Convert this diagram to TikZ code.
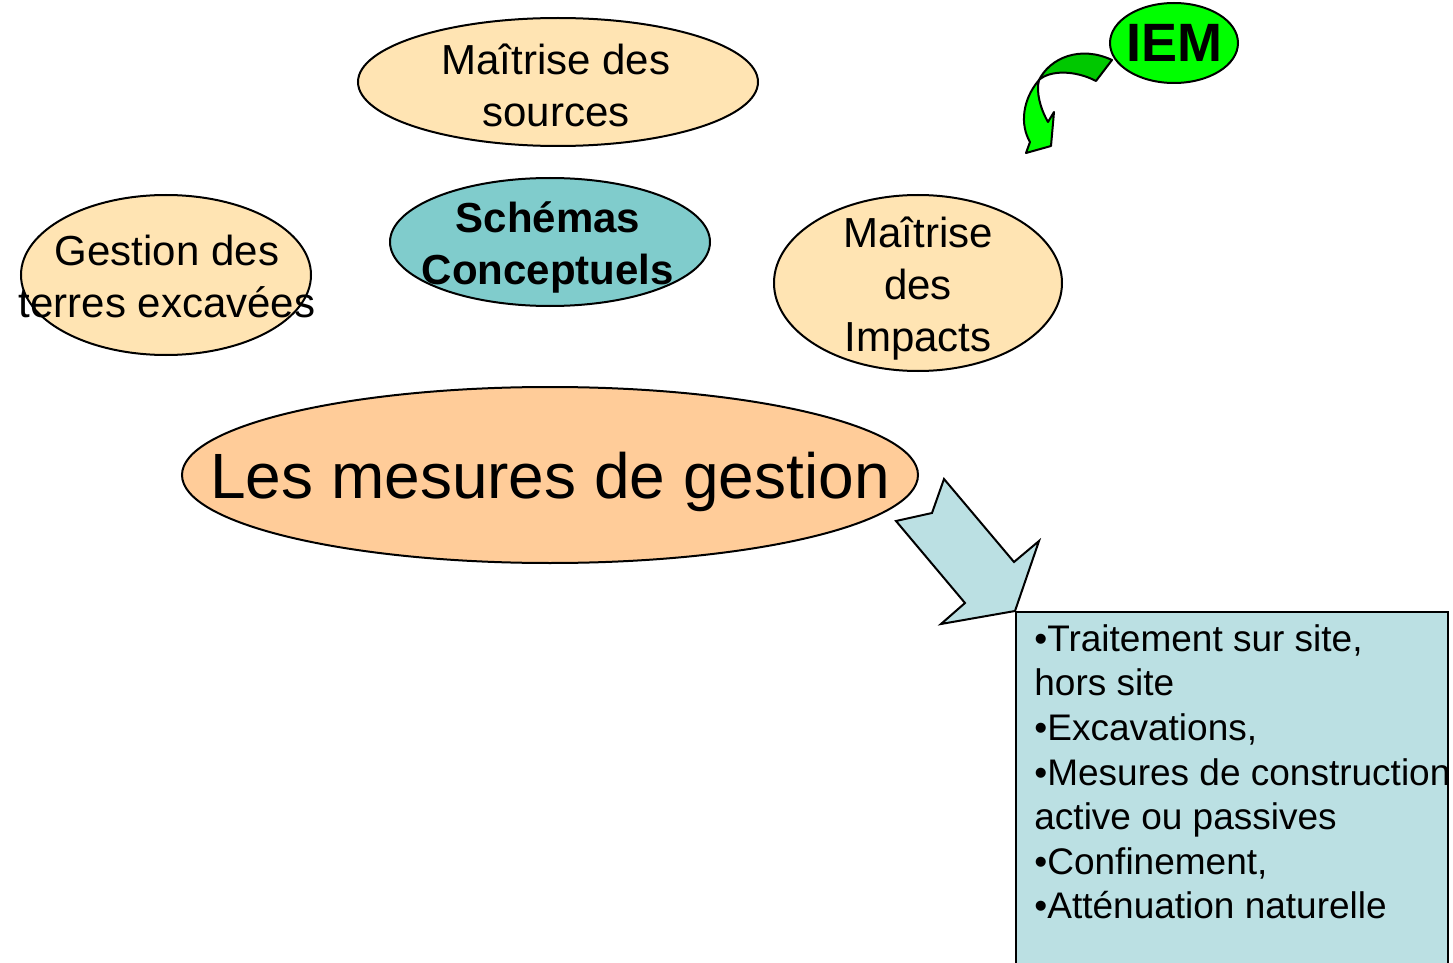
\documentclass[tikz,border=0pt]{standalone}
\usepackage{fontspec}
\setmainfont{Liberation Sans}
\usetikzlibrary{shapes.geometric}
\definecolor{jaune}{HTML}{FFE4B3}
\definecolor{peche}{HTML}{FFCC99}
\definecolor{turquoise}{HTML}{80CCCC}
\definecolor{bleuclair}{HTML}{BBE0E3}
\definecolor{vert}{HTML}{00FF00}
\definecolor{vertfonce}{HTML}{00C800}

\begin{document}
\begin{tikzpicture}[x=0.5pt,y=-0.5pt,
    bulle/.style={ellipse,draw,line width=1pt,inner sep=0pt},
    txt/.style={font=\fontsize{21}{26}\selectfont,align=center,inner sep=0pt}]
    \useasboundingbox (0,0) rectangle (1453,963);
    % les bulles
    \node[bulle,fill=jaune,minimum width=200pt,minimum height=64pt] (sources) at (558,82) {};
    \node[bulle,fill=turquoise,minimum width=160pt,minimum height=64pt] (schemas) at (550,242) {};
    \node[bulle,fill=jaune,minimum width=145pt,minimum height=80pt] (terres) at (166,275) {};
    \node[bulle,fill=jaune,minimum width=144pt,minimum height=88pt] (impacts) at (918,283) {};
    \node[bulle,fill=peche,minimum width=368pt,minimum height=88pt] (mesures) at (550,475) {};
    \node[bulle,fill=vert,minimum width=64pt,minimum height=40pt] (iem) at (1174,43) {};
    % les textes
    \node[txt] at ([xshift=-1pt,yshift=-1.5pt]sources) {Maîtrise des\\ sources};
    \node[txt,font=\bfseries\fontsize{21}{26}\selectfont] at ([xshift=-1pt,yshift=-2.5pt]schemas) {Schémas\\ Conceptuels};
    \node[txt] at ([xshift=0.5pt,yshift=-0.5pt]terres) {Gestion des\\ terres excavées};
    \node[txt] at ([yshift=-3pt]impacts) {Maîtrise\\ des\\ Impacts};
    \node[txt,font=\fontsize{32}{38}\selectfont] at ([yshift=-3.5pt]mesures) {Les mesures de gestion};
    \node[txt,font=\bfseries\fontsize{27}{32}\selectfont] at (iem) {IEM};
    % la flèche courbe
    \filldraw[fill=vert,line width=1pt,line join=round] (1039,80)
      .. controls (1022,100) and (1020,125) .. (1030,142) -- (1026,153) -- (1051,146)
      -- (1054,112) -- (1048,122) .. controls (1040,108) and (1036,92) .. (1039,80) -- cycle;
    \filldraw[fill=vertfonce,line width=1pt,line join=round] (1039,80)
      .. controls (1050,58) and (1080,45) .. (1112,60) -- (1096,81)
      .. controls (1075,70) and (1050,70) .. (1039,80) -- cycle;
    % la boîte
    \node[draw,fill=bleuclair,line width=1pt,anchor=north west,minimum width=216pt,minimum height=180pt] (boite) at (1015,611) {};
    \node[inner sep=0pt,anchor=north west,align=left,font=\fontsize{18.5}{22.3}\selectfont] (liste) at (1034,624)
      {•Traitement sur site,\\ hors site\\ •Excavations,\\ •Mesures de construction\\ active ou passives\\ •Confinement,\\ •Atténuation naturelle};
    % la grosse flèche
    \filldraw[fill=bleuclair,line width=1pt,line join=miter] (944,479) -- (932,513) -- (896,521)
      -- (965,603) -- (941,624) -- (boite.north west) -- (1039,541) -- (1014,562) -- cycle;
\end{tikzpicture}
\end{document}
